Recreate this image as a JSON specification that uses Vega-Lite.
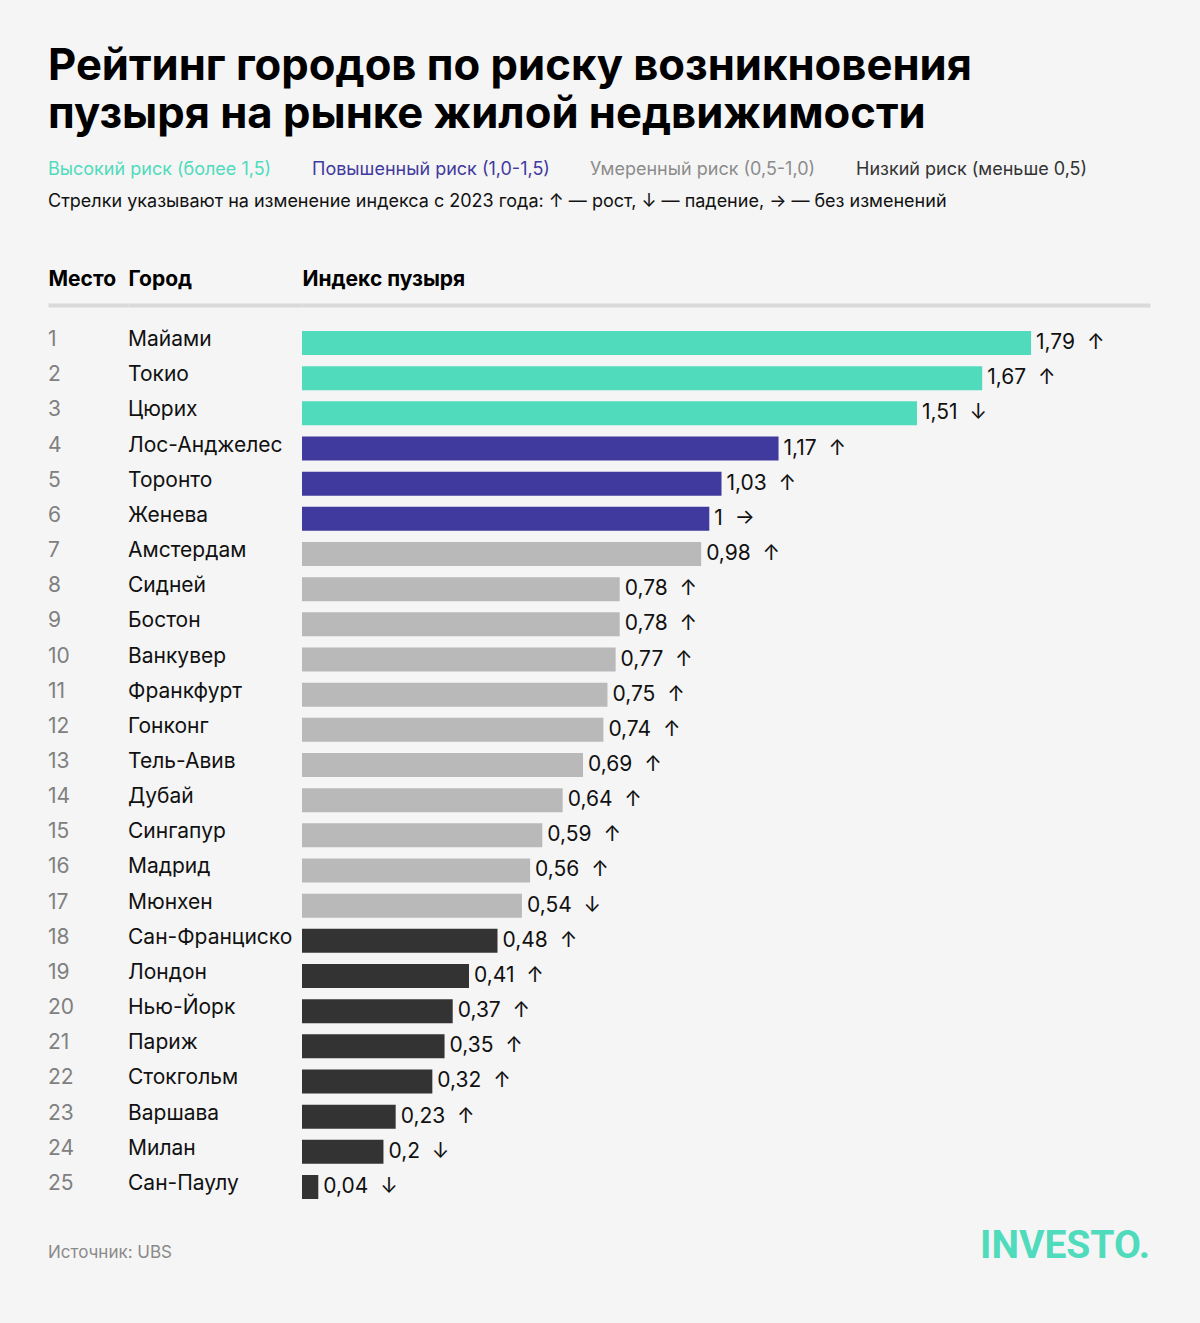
{
  "$schema": "https://vega.github.io/schema/vega-lite/v6.json",
  "background": "#f5f5f5",
  "padding": {"left": 48, "top": 45, "right": 50, "bottom": 60},
  "autosize": {"type": "pad"},
  "title": {
    "text": ["Рейтинг городов по риску возникновения", "пузыря на рынке жилой недвижимости"],
    "anchor": "start",
    "font": "Inter",
    "fontSize": 43.6,
    "fontWeight": 700,
    "lineHeight": 48,
    "color": "#000000",
    "offset": 23
  },
  "data": {
    "values": [
      {"rank": 1, "city": "Майами", "value": 1.79, "label": "1,79\u00a0 ↑", "cat": "Высокий риск (более 1,5)"},
      {"rank": 2, "city": "Токио", "value": 1.67, "label": "1,67\u00a0 ↑", "cat": "Высокий риск (более 1,5)"},
      {"rank": 3, "city": "Цюрих", "value": 1.51, "label": "1,51\u00a0 ↓", "cat": "Высокий риск (более 1,5)"},
      {"rank": 4, "city": "Лос-Анджелес", "value": 1.17, "label": "1,17\u00a0 ↑", "cat": "Повышенный риск (1,0-1,5)"},
      {"rank": 5, "city": "Торонто", "value": 1.03, "label": "1,03\u00a0 ↑", "cat": "Повышенный риск (1,0-1,5)"},
      {"rank": 6, "city": "Женева", "value": 1.0, "label": "1\u00a0 →", "cat": "Повышенный риск (1,0-1,5)"},
      {"rank": 7, "city": "Амстердам", "value": 0.98, "label": "0,98\u00a0 ↑", "cat": "Умеренный риск (0,5-1,0)"},
      {"rank": 8, "city": "Сидней", "value": 0.78, "label": "0,78\u00a0 ↑", "cat": "Умеренный риск (0,5-1,0)"},
      {"rank": 9, "city": "Бостон", "value": 0.78, "label": "0,78\u00a0 ↑", "cat": "Умеренный риск (0,5-1,0)"},
      {"rank": 10, "city": "Ванкувер", "value": 0.77, "label": "0,77\u00a0 ↑", "cat": "Умеренный риск (0,5-1,0)"},
      {"rank": 11, "city": "Франкфурт", "value": 0.75, "label": "0,75\u00a0 ↑", "cat": "Умеренный риск (0,5-1,0)"},
      {"rank": 12, "city": "Гонконг", "value": 0.74, "label": "0,74\u00a0 ↑", "cat": "Умеренный риск (0,5-1,0)"},
      {"rank": 13, "city": "Тель-Авив", "value": 0.69, "label": "0,69\u00a0 ↑", "cat": "Умеренный риск (0,5-1,0)"},
      {"rank": 14, "city": "Дубай", "value": 0.64, "label": "0,64\u00a0 ↑", "cat": "Умеренный риск (0,5-1,0)"},
      {"rank": 15, "city": "Сингапур", "value": 0.59, "label": "0,59\u00a0 ↑", "cat": "Умеренный риск (0,5-1,0)"},
      {"rank": 16, "city": "Мадрид", "value": 0.56, "label": "0,56\u00a0 ↑", "cat": "Умеренный риск (0,5-1,0)"},
      {"rank": 17, "city": "Мюнхен", "value": 0.54, "label": "0,54\u00a0 ↓", "cat": "Умеренный риск (0,5-1,0)"},
      {"rank": 18, "city": "Сан-Франциско", "value": 0.48, "label": "0,48\u00a0 ↑", "cat": "Низкий риск (меньше 0,5)"},
      {"rank": 19, "city": "Лондон", "value": 0.41, "label": "0,41\u00a0 ↑", "cat": "Низкий риск (меньше 0,5)"},
      {"rank": 20, "city": "Нью-Йорк", "value": 0.37, "label": "0,37\u00a0 ↑", "cat": "Низкий риск (меньше 0,5)"},
      {"rank": 21, "city": "Париж", "value": 0.35, "label": "0,35\u00a0 ↑", "cat": "Низкий риск (меньше 0,5)"},
      {"rank": 22, "city": "Стокгольм", "value": 0.32, "label": "0,32\u00a0 ↑", "cat": "Низкий риск (меньше 0,5)"},
      {"rank": 23, "city": "Варшава", "value": 0.23, "label": "0,23\u00a0 ↑", "cat": "Низкий риск (меньше 0,5)"},
      {"rank": 24, "city": "Милан", "value": 0.2, "label": "0,2\u00a0 ↓", "cat": "Низкий риск (меньше 0,5)"},
      {"rank": 25, "city": "Сан-Паулу", "value": 0.04, "label": "0,04\u00a0 ↓", "cat": "Низкий риск (меньше 0,5)"}
    ]
  },
  "spacing": 0,
  "bounds": "flush",
  "hconcat": [
    {
      "width": 80,
      "height": 920,
      "title": {
        "text": "Источник: UBS",
        "orient": "bottom",
        "anchor": "start",
        "font": "Inter",
        "fontSize": 17,
        "fontWeight": "normal",
        "color": "#8a8a8a",
        "offset": 20
      },
      "mark": {"type": "text", "align": "left", "baseline": "middle", "dy": -3, "fontSize": 21, "color": "#808080", "font": "Inter"},
      "encoding": {
        "x": {
          "datum": 0,
          "type": "quantitative",
          "scale": {"domain": [0, 1], "nice": false, "zero": false},
          "axis": {"orient": "top", "title": "Место"}
        },
        "y": {
          "field": "rank",
          "type": "ordinal",
          "scale": {"type": "band", "paddingInner": 0.318, "paddingOuter": 0.74},
          "axis": null
        },
        "text": {"field": "rank", "type": "ordinal"}
      }
    },
    {
      "width": 174,
      "height": 920,
      "mark": {"type": "text", "align": "left", "baseline": "middle", "dy": -3, "fontSize": 21, "color": "#111111", "font": "Inter"},
      "encoding": {
        "x": {
          "datum": 0,
          "type": "quantitative",
          "scale": {"domain": [0, 1], "nice": false, "zero": false},
          "axis": {"orient": "top", "title": "Город"}
        },
        "y": {
          "field": "rank",
          "type": "ordinal",
          "scale": {"type": "band", "paddingInner": 0.318, "paddingOuter": 0.74},
          "axis": null
        },
        "text": {"field": "city", "type": "nominal"}
      }
    },
    {
      "width": 848,
      "height": 920,
      "title": {
        "text": "INVESTO.",
        "orient": "bottom",
        "anchor": "end",
        "font": "Roboto",
        "fontSize": 39,
        "fontWeight": 700,
        "color": "#50dbbc",
        "offset": 2
      },
      "encoding": {
        "y": {
          "field": "rank",
          "type": "ordinal",
          "scale": {"type": "band", "paddingInner": 0.318, "paddingOuter": 0.74},
          "axis": null
        },
        "x": {
          "field": "value",
          "type": "quantitative",
          "scale": {"domain": [0, 2.082], "nice": false, "zero": true},
          "axis": {"orient": "top", "title": "Индекс пузыря"}
        }
      },
      "layer": [
        {
          "mark": {"type": "bar"},
          "encoding": {
            "color": {
              "field": "cat",
              "type": "nominal",
              "scale": {
                "domain": ["Высокий риск (более 1,5)", "Повышенный риск (1,0-1,5)", "Умеренный риск (0,5-1,0)", "Низкий риск (меньше 0,5)"],
                "range": ["#50dbbc", "#413a9e", "#b9b9b9", "#333333"]
              },
              "legend": {
                "orient": "top",
                "direction": "horizontal",
                "title": "Стрелки указывают на изменение индекса с 2023 года: ↑ — рост, ↓ — падение, → — без изменений",
                "titleOrient": "bottom",
                "titleFont": "Inter",
                "titleFontSize": 18,
                "titleFontWeight": "normal",
                "titleColor": "#111111",
                "titleLimit": 1100,
                "titlePadding": 14,
                "symbolSize": 0,
                "symbolStrokeWidth": 0,
                "symbolOpacity": 0,
                "labelOffset": -18,
                "labelFont": "Inter",
                "labelFontSize": 18,
                "labelLimit": 500,
                "columnPadding": 40,
                "offset": 57,
                "encode": {
                  "labels": {
                    "update": {
                      "fill": {"signal": "datum.label === 'Высокий риск (более 1,5)' ? '#50dbbc' : datum.label === 'Повышенный риск (1,0-1,5)' ? '#413a9e' : datum.label === 'Умеренный риск (0,5-1,0)' ? '#8c8c8c' : '#333333'"}
                    }
                  }
                }
              }
            }
          }
        },
        {
          "mark": {"type": "text", "align": "left", "baseline": "middle", "dx": 5, "fontSize": 21, "color": "#111111", "font": "Inter"},
          "encoding": {
            "text": {"field": "label", "type": "nominal"}
          }
        }
      ]
    }
  ],
  "config": {
    "view": {"stroke": null},
    "font": "Inter",
    "axis": {
      "domain": true,
      "domainColor": "#dadada",
      "domainWidth": 4,
      "ticks": false,
      "labels": false,
      "grid": false,
      "titleFont": "Inter",
      "titleFontSize": 21,
      "titleFontWeight": 700,
      "titleColor": "#000000",
      "titleAnchor": "start",
      "titlePadding": 16
    }
  }
}
